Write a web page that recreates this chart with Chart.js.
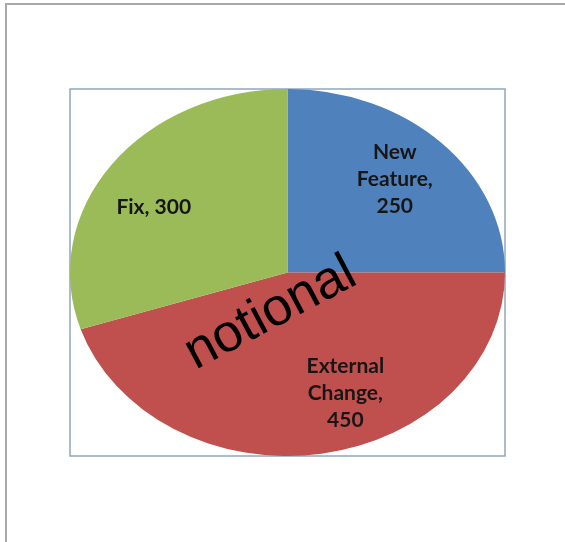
<!DOCTYPE html>
<html lang="en">
<head>
  <meta charset="utf-8">
  <title>Notional breakdown</title>
  <script src="https://cdn.jsdelivr.net/npm/chart.js@4.4.1/dist/chart.umd.min.js"></script>
  <style>
    html, body { margin: 0; padding: 0; background: #fff; }
    #page { position: relative; width: 565px; height: 542px; overflow: hidden; }
    #frame { position: absolute; left: 5px; top: 3px; right: 0; bottom: 0;
             border-top: 2px solid #a9a9a9; border-left: 2px solid #a9a9a9; }
    #myChart { position: absolute; left: 0; top: 0; }
  </style>
</head>
<body>
  <div id="page">
    <div id="frame"></div>
    <canvas id="myChart" width="565" height="542"></canvas>
  </div>
  <script>
    // data
    var categories = ['New Feature', 'External Change', 'Fix'];
    var counts = [250, 450, 300];
    var sliceColors = ['#4F81BD', '#C0504D', '#9BBB59'];
    var watermark = 'notional';

    // the pie in the picture is an oval, wider than tall
    var stretchX = 217.5 / 183.5;
    // excel nudges its labels a little off the slice middle (degrees)
    var labelNudge = [-1, -13, -6];

    var ovalPie = {
      id: 'ovalPie',
      beforeDraw(chart) {
        var arc = chart.getDatasetMeta(0).data[0];
        var ctx = chart.ctx;
        var rx = arc.outerRadius * stretchX;
        var ry = arc.outerRadius;
        ctx.save();
        ctx.strokeStyle = '#90a6ba';
        ctx.lineWidth = 1.5;
        ctx.strokeRect(arc.x - rx, arc.y - ry, rx * 2, ry * 2);
        ctx.restore();
      },
      beforeDatasetsDraw(chart) {
        var arc = chart.getDatasetMeta(0).data[0];
        var ctx = chart.ctx;
        ctx.save();
        ctx.translate(arc.x, arc.y);
        ctx.scale(stretchX, 1);
        ctx.translate(-arc.x, -arc.y);
      },
      afterDatasetsDraw(chart) {
        var ctx = chart.ctx;
        ctx.restore();

        var arcs = chart.getDatasetMeta(0).data;
        ctx.save();
        ctx.font = 'bold 21px Lato';
        ctx.fillStyle = '#161616';
        ctx.textAlign = 'center';
        ctx.textBaseline = 'middle';
        arcs.forEach(function (arc, i) {
          var text = categories[i] + ', ' + counts[i];
          var lines = text.length > 10 ? text.split(' ') : [text];
          var mid = (arc.startAngle + arc.endAngle) / 2 + labelNudge[i] * Math.PI / 180;
          var px = arc.x + Math.cos(mid) * arc.outerRadius * 0.71 * stretchX;
          var py = arc.y + Math.sin(mid) * arc.outerRadius * 0.71;
          var lineH = 27;
          var y0 = py - (lines.length - 1) * lineH / 2;
          lines.forEach(function (ln, j) {
            ctx.fillText(ln, px, y0 + j * lineH);
          });
        });
        ctx.restore();
      },
      afterDraw(chart) {
        var arc = chart.getDatasetMeta(0).data[0];
        var ctx = chart.ctx;
        ctx.save();
        ctx.translate(arc.x - 10, arc.y + 54);
        ctx.rotate(-28 * Math.PI / 180);
        ctx.font = '53px "Liberation Sans", Arial, sans-serif';
        ctx.fillStyle = '#000';
        ctx.textAlign = 'center';
        ctx.textBaseline = 'alphabetic';
        ctx.fillText(watermark, 0, 0);
        ctx.restore();
      }
    };

    var ctx = document.getElementById('myChart');
    var myChart = new Chart(ctx, {
      type: 'pie',
      data: {
        labels: categories,
        datasets: [{
          data: counts,
          backgroundColor: sliceColors,
          borderWidth: 0
        }]
      },
      options: {
        responsive: false,
        animation: false,
        layout: { padding: { left: 104, right: 94, top: 89, bottom: 86 } },
        plugins: {
          legend: { display: false },
          tooltip: { enabled: false }
        }
      },
      plugins: [ovalPie]
    });
  </script>
</body>
</html>
